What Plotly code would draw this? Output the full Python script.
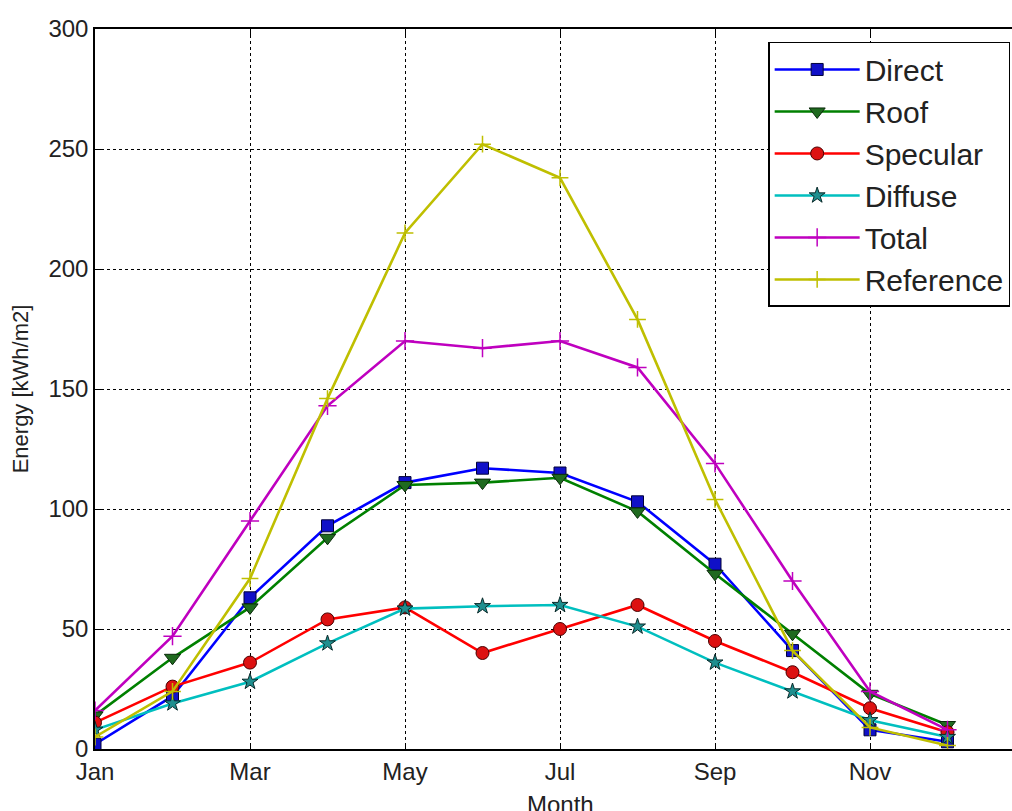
import plotly.graph_objects as go

months = list(range(1, 13))
tick_vals = [1, 3, 5, 7, 9, 11]
tick_text = ["Jan", "Mar", "May", "Jul", "Sep", "Nov"]
y_ticks = [0, 50, 100, 150, 200, 250, 300]

direct = [2, 22, 63, 93, 111, 117, 115, 103, 77, 41, 8, 3]
roof = [14, 38, 59, 88, 110, 111, 113, 99, 73, 48, 23, 10]
specular = [11, 26, 36, 54, 59, 40, 50, 60, 45, 32, 17, 7]
diffuse = [8, 19, 28, 44, 58.5, 59.5, 60, 51, 36, 24, 12, 5]
total = [16, 47, 95, 143, 170, 167, 170, 159, 119, 70, 24, 8]
reference = [5, 24, 71, 146, 215, 252, 238, 179, 104, 41, 9, 1.5]

series = [
    ("Direct", direct, "#0000ff", "square", 12, "#00003a", "#1010c8"),
    ("Roof", roof, "#008000", "triangle-down", 14, "#0a2a0a", "#1f6a1f"),
    ("Specular", specular, "#ff0000", "circle", 13, "#4a0000", "#dd1111"),
    ("Diffuse", diffuse, "#00bfbf", "star", 12, "#0a2a2a", "#1f8f8f"),
    ("Total", total, "#bf00bf", "cross-thin", 13, "#bf00bf", "#bf00bf"),
    ("Reference", reference, "#bfbf00", "cross-thin", 12, "#bfbf00", "#bfbf00"),
]

fig = go.Figure()
for name, vals, color, sym, size, edge, fill in series:
    if sym == "cross-thin":
        marker = dict(symbol=sym, size=size, color=color, line=dict(color=color, width=1.5))
    else:
        marker = dict(symbol=sym, size=size, color=fill, line=dict(color=edge, width=1))
    fig.add_trace(go.Scatter(
        x=months, y=vals, name=name, mode="lines+markers",
        line=dict(color=color, width=2.6), marker=marker, legendgroup=name,
    ))

font_family = "Liberation Sans, Arial, sans-serif"

fig.update_layout(
    width=1012, height=811,
    margin=dict(l=95, r=0, t=29, b=62),
    plot_bgcolor="white", paper_bgcolor="white",
    font=dict(family=font_family, size=24, color="#222222"),
    showlegend=True,
    legend=dict(
        x=0.998, y=0.982, xanchor="right", yanchor="top",
        bgcolor="white", bordercolor="black", borderwidth=1.5,
        font=dict(size=30, color="#222222"), tracegroupgap=0,
        itemwidth=85,
    ),
    xaxis=dict(
        range=[1, 1 + (1012 - 95) / 77.5], tickvals=tick_vals, ticktext=tick_text,
        showline=True, linecolor="black", linewidth=1.5, mirror="ticks",
        ticks="inside", ticklen=6, tickcolor="black",
        showgrid=True, gridcolor="black", gridwidth=1, griddash="3px,3px",
        zeroline=False, automargin=False,
    ),
    yaxis=dict(
        range=[0, 300], tickvals=y_ticks,
        showline=True, linecolor="black", linewidth=1.5, mirror=False,
        ticks="inside", ticklen=6, tickcolor="black",
        showgrid=True, gridcolor="black", gridwidth=1, griddash="3px,3px",
        zeroline=False, automargin=False,
        title=dict(text="Energy [kWh/m2]", font=dict(size=22), standoff=14),
    ),
    annotations=[dict(
        text="Month", x=7, xref="x", y=-0.056, yref="paper",
        xanchor="center", yanchor="top", showarrow=False,
        font=dict(size=24, color="#222222"),
    )],
)

fig.write_html("out.html", config={"displayModeBar": False},
               post_script="document.body.style.margin='0px';")
